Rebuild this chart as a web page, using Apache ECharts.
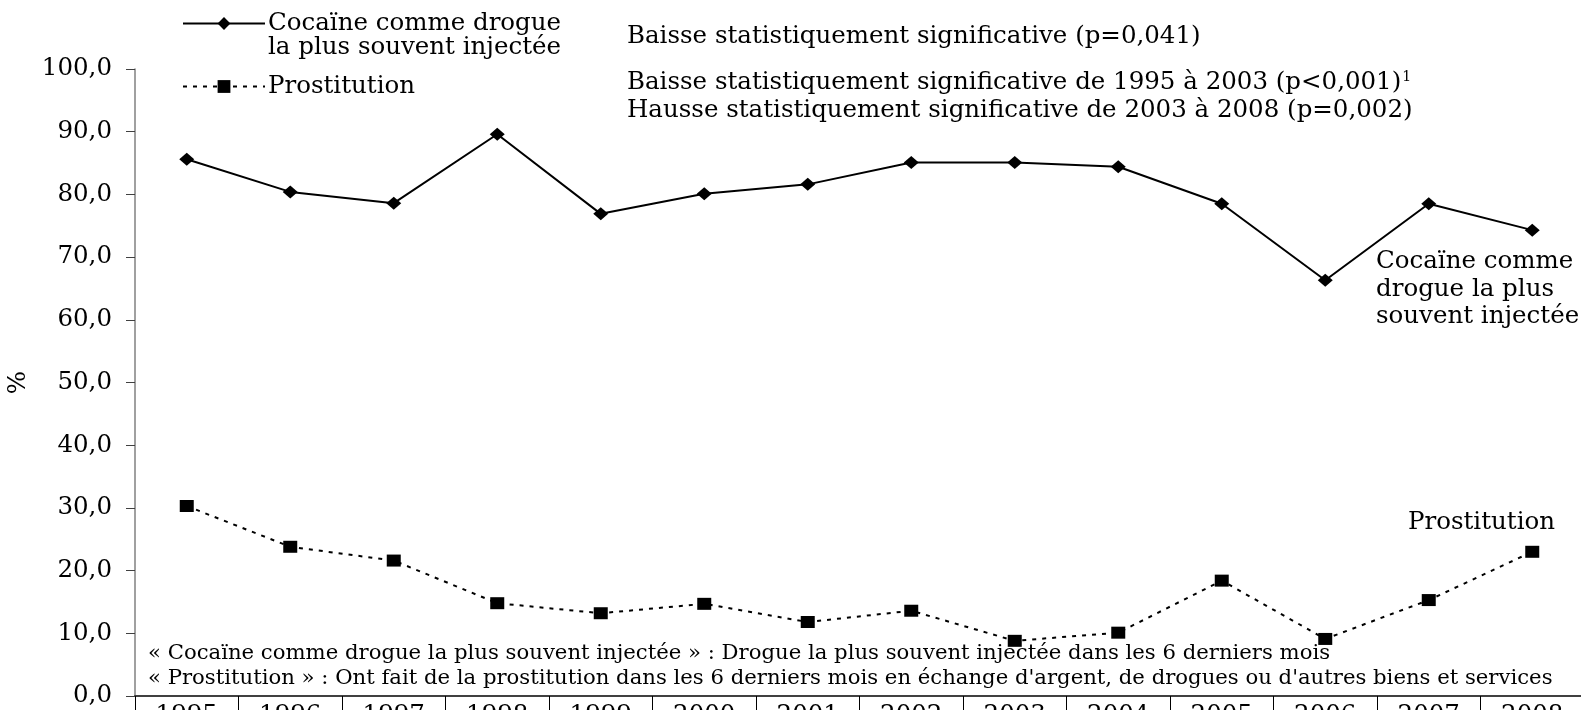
<!DOCTYPE html>
<html>
<head>
<meta charset="utf-8">
<script src="https://cdn.jsdelivr.net/npm/echarts@6/dist/echarts.min.js"></script>
<style>
html,body{margin:0;padding:0;background:#fff;}
#c{width:1581px;height:710px;}
</style>
</head>
<body>
<div id="c"></div>
<script>
const years = ['1995','1996','1997','1998','1999','2000','2001','2002','2003','2004','2005','2006','2007','2008'];
const cocaine = [85.6, 80.4, 78.6, 89.6, 76.9, 80.1, 81.6, 85.1, 85.1, 84.4, 78.5, 66.3, 78.5, 74.3];
const prostitution = [30.3, 23.8, 21.6, 14.8, 13.2, 14.7, 11.8, 13.6, 8.8, 10.1, 18.4, 9.1, 15.3, 23.0];
const yTicks = {min: 0, max: 100, interval: 10};
const cocaineName = 'Cocaïne comme drogue la plus souvent injectée';
const prostName = 'Prostitution';

const FF = 'DejaVu Serif';
const FS = 24.5;
const FN = 21.2;
const txt = (x, y, text, extra) => Object.assign({
  type: 'text', x: x, y: y, silent: true,
  style: Object.assign({text: text, fontFamily: FF, fontSize: FS, fill: '#000', verticalAlign: 'middle', align: 'left'}, extra || {})
});

const chart = echarts.init(document.getElementById('c'));
chart.setOption({
  backgroundColor: '#fff',
  animation: false,
  grid: {left: 135, width: 1449, top: 69, bottom: 14, containLabel: false, outerBoundsMode: 'none'},
  legend: [
    {
      data: [cocaineName], left: 177, top: 6, itemWidth: 82, itemHeight: 16, itemGap: 0,
      formatter: () => 'Cocaïne comme drogue',
      textStyle: {fontFamily: FF, fontSize: FS, color: '#000', padding: [0,0,0,-2]}
    },
    {
      data: [prostName], left: 177, top: 69, itemWidth: 82, itemHeight: 16,
      textStyle: {fontFamily: FF, fontSize: FS, color: '#000', padding: [0,0,0,-2]}
    }
  ],
  xAxis: {
    type: 'category', data: years, boundaryGap: true,
    axisLine: {lineStyle: {color: '#404040', width: 2}},
    axisTick: {show: true, interval: 0, length: 20, lineStyle: {color: '#000', width: 1}},
    axisLabel: {interval: 0, margin: 7, fontFamily: FF, fontSize: FS, color: '#000'}
  },
  yAxis: {
    type: 'value', min: yTicks.min, max: yTicks.max, interval: yTicks.interval,
    name: '%', nameLocation: 'middle', nameGap: 104, nameRotate: 90,
    nameTextStyle: {fontFamily: FF, fontSize: FS, color: '#000'},
    splitLine: {show: false},
    axisLine: {show: true, lineStyle: {color: '#808080', width: 1.5}},
    axisTick: {show: true, length: 9, lineStyle: {color: '#404040'}},
    axisLabel: {margin: 23, fontFamily: FF, fontSize: FS, color: '#000',
      formatter: v => v.toFixed(1).replace('.', ',')}
  },
  series: [
    {
      name: cocaineName, type: 'line', data: cocaine,
      symbol: 'diamond', symbolSize: [15, 13],
      lineStyle: {color: '#000', width: 2, type: 'solid'},
      itemStyle: {color: '#000'}
    },
    {
      name: prostName, type: 'line', data: prostitution,
      symbol: 'rect', symbolSize: [14, 12],
      lineStyle: {color: '#000', width: 2, type: [4, 6]},
      itemStyle: {color: '#000'}
    }
  ],
  graphic: [
    txt(268, 48, 'la plus souvent injectée'),
    txt(627, 37, 'Baisse statistiquement significative (p=0,041)'),
    txt(627, 83, 'Baisse statistiquement significative de 1995 à 2003 (p<0,001){sup|1}', {
      rich: {sup: {fontSize: 14, fontFamily: FF, verticalAlign: 'top', padding: [0, 0, 12, 1]}}
    }),
    txt(627, 111, 'Hausse statistiquement significative de 2003 à 2008 (p=0,002)'),
    txt(1376, 262, 'Cocaïne comme'),
    txt(1376, 290, 'drogue la plus'),
    txt(1376, 317, 'souvent injectée'),
    txt(1408, 523, 'Prostitution'),
    txt(148, 653, '« Cocaïne comme drogue la plus souvent injectée » : Drogue la plus souvent injectée dans les 6 derniers mois', {fontSize: FN}),
    txt(148, 678, "« Prostitution » : Ont fait de la prostitution dans les 6 derniers mois en échange d'argent, de drogues ou d'autres biens et services", {fontSize: FN})
  ]
});
</script>
</body>
</html>
